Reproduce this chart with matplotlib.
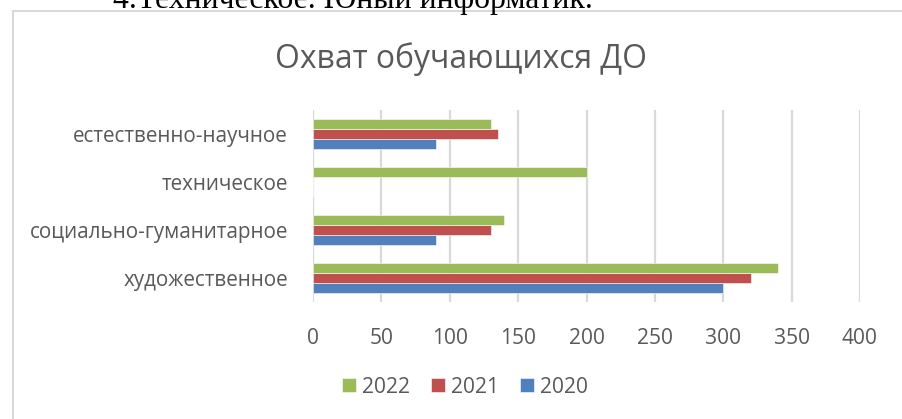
import matplotlib
matplotlib.use("Agg")
import matplotlib.pyplot as plt
from matplotlib.lines import Line2D
import numpy as np

# ---- data ----
categories = ["художественное", "социально-гуманитарное", "техническое", "естественно-научное"]
years = ["2020", "2021", "2022"]
values_2020 = [300, 90, 0, 90]
values_2021 = [320, 130, 0, 135]
values_2022 = [340, 140, 200, 130]
x_ticks = [0, 50, 100, 150, 200, 250, 300, 350, 400]
title_text = "Охват обучающихся ДО"
doc_text = "4.Техническое. Юный информатик."

colors = {"2020": "#4F81BD", "2021": "#C0504D", "2022": "#9BBB59"}
text_color = "#595959"
grid_color = "#D9D9D9"

plt.rcParams['font.family'] = ['Open Sans', 'DejaVu Sans']

W, H = 902, 419
fig = plt.figure(figsize=(W / 100, H / 100), dpi=100)
fig.patch.set_facecolor("white")

def fx(px):
    return px / W

def fy(py):
    return 1 - py / H

renderer = fig.canvas.get_renderer()

def fit(t, target_w):
    w = t.get_window_extent(renderer).width
    t.set_fontsize(t.get_fontsize() * target_w / w)
    return t.get_fontsize()

# chart border
fig.add_artist(Line2D([fx(13), fx(13)], [fy(11.5), fy(H + 5)], transform=fig.transFigure,
                      color="#D9D9D9", lw=1.5))
fig.add_artist(Line2D([fx(13), fx(W + 5)], [fy(11.5), fy(11.5)], transform=fig.transFigure,
                      color="#D9D9D9", lw=1.5))

# document text above chart (cut off at the top, as in the reference)
dt = fig.text(fx(113), fy(8), doc_text, family=['Liberation Serif', 'DejaVu Serif'],
              fontsize=24, color="black", ha="left", va="baseline")
fit(dt, 480)

# title
tt = fig.text(fx(461), fy(68), title_text, fontsize=20, color=text_color, ha="center", va="baseline")
fit(tt, 372)

# axes
ax = fig.add_axes([fx(313), fy(302), fx(860) - fx(313), (302 - 110) / H])
y = np.arange(len(categories))
bh = 0.208
series = [("2020", values_2020, -bh), ("2021", values_2021, 0.0), ("2022", values_2022, bh)]
handles = {}
for name, vals, off in series:
    b = ax.barh(y + off, vals, height=bh, color=colors[name], edgecolor="white",
                linewidth=0.4, label=name, zorder=3)
    handles[name] = b

ax.set_xlim(0, 400)
ax.set_ylim(-0.5, len(categories) - 0.5)
ax.set_xticks(x_ticks)
ax.set_yticks(y)
ax.set_yticklabels(categories)
ax.set_xticklabels([str(v) for v in x_ticks])
for s in ax.spines.values():
    s.set_visible(False)
ax.xaxis.grid(True, color=grid_color, lw=1.6, zorder=0)
ax.set_axisbelow(True)
ax.tick_params(axis="y", length=0, pad=18, colors=text_color, labelcolor=text_color)
ax.tick_params(axis="x", length=0, pad=19, colors=text_color, labelcolor=text_color)

# fit label sizes
fig.canvas.draw()
lab = [t for t in ax.get_yticklabels() if t.get_text() == "естественно-научное"][0]
lab_fs = fit(lab, 214)
for t in ax.get_yticklabels():
    t.set_fontsize(lab_fs)
xt = [t for t in ax.get_xticklabels() if t.get_text() == "400"][0]
tick_fs = fit(xt, 36)
for t in ax.get_xticklabels():
    t.set_fontsize(tick_fs)

leg = ax.legend([handles["2022"], handles["2021"], handles["2020"]], ["2022", "2021", "2020"],
                loc="center", bbox_to_anchor=(fx(465), fy(387)), bbox_transform=fig.transFigure,
                ncol=3, frameon=False, handlelength=0.65, handleheight=0.65,
                handletextpad=0.3, columnspacing=1.0, fontsize=tick_fs)
for t in leg.get_texts():
    t.set_color(text_color)

fig.savefig("out.png", dpi=100, facecolor="white")
